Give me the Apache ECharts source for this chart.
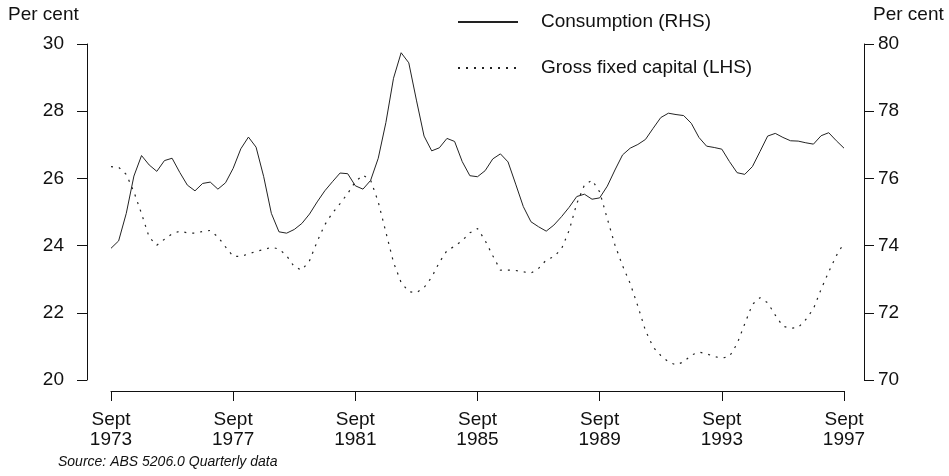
<!DOCTYPE html>
<html>
<head>
<meta charset="utf-8">
<script src="https://cdn.jsdelivr.net/npm/echarts@6/dist/echarts.min.js"></script>
<style>
  html, body { margin: 0; padding: 0; background: #fff; }
  #chart { width: 949px; height: 476px; }
</style>
</head>
<body>
<div id="chart"></div>
<script>
// quarterly, Sept 1973 .. Sept 1997
var quarterNames = ['Sept', 'Dec', 'Mar', 'Jun']
var quarters = []
for (var i = 0; i <= 96; i++) {
  quarters.push(quarterNames[i % 4] + ' ' + (1973 + Math.floor((i + 2) / 4)))
}

// Consumption share (RHS, per cent)
var consumption = [
  73.92, 74.14, 74.96, 76.07, 76.68, 76.40, 76.21, 76.53, 76.60, 76.18,
  75.80, 75.63, 75.85, 75.89, 75.68, 75.87, 76.30, 76.88, 77.23, 76.93,
  76.05, 74.96, 74.41, 74.37, 74.48, 74.66, 74.94, 75.30, 75.63, 75.90,
  76.16, 76.14, 75.78, 75.68, 75.94, 76.60, 77.66, 78.98, 79.74, 79.44,
  78.33, 77.26, 76.82, 76.91, 77.19, 77.10, 76.50, 76.08, 76.05, 76.23,
  76.58, 76.73, 76.49, 75.83, 75.16, 74.71, 74.56, 74.43, 74.61, 74.86,
  75.14, 75.46, 75.53, 75.38, 75.42, 75.77, 76.25, 76.70, 76.90, 77.01,
  77.16, 77.49, 77.81, 77.94, 77.90, 77.87, 77.64, 77.22, 76.96, 76.92,
  76.87, 76.50, 76.17, 76.12, 76.35, 76.80, 77.26, 77.34, 77.22, 77.12,
  77.11, 77.06, 77.02, 77.27, 77.36, 77.12, 76.90
]

// Gross fixed capital share (LHS, per cent)
var grossFixedCapital = [
  26.35, 26.33, 26.12, 25.60, 24.95, 24.25, 24.01, 24.19, 24.35, 24.43,
  24.38, 24.37, 24.42, 24.45, 24.26, 23.96, 23.68, 23.68, 23.75, 23.83,
  23.88, 23.95, 23.90, 23.70, 23.37, 23.27, 23.55, 24.12, 24.62, 24.97,
  25.25, 25.55, 25.90, 26.10, 25.95, 25.30, 24.40, 23.50, 22.90, 22.63,
  22.60, 22.75, 23.06, 23.50, 23.85, 23.98, 24.15, 24.38, 24.51, 24.15,
  23.70, 23.27, 23.27, 23.26, 23.22, 23.18, 23.32, 23.57, 23.67, 23.90,
  24.45, 25.25, 25.80, 25.95, 25.60, 24.80, 24.02, 23.40, 22.87, 22.20,
  21.47, 20.98, 20.73, 20.54, 20.45, 20.54, 20.74, 20.83, 20.78, 20.70,
  20.65, 20.70, 21.08, 21.67, 22.25, 22.45, 22.30, 21.93, 21.60, 21.54,
  21.56, 21.80, 22.12, 22.70, 23.22, 23.70, 24.08
]

var fontFamily = "'Liberation Sans', Arial, sans-serif"
var ink = '#111'

function showEvery4Years (index) {
  return index % 16 === 0
}

var chart = echarts.init(document.getElementById('chart'))
var option = {
  animation: false,
  textStyle: { fontFamily: fontFamily, color: ink },
  grid: { left: 111, right: 105, top: 44, bottom: 96 },
  legend: {
    orient: 'vertical',
    left: 452,
    top: 7,
    itemWidth: 60,
    itemHeight: 14,
    itemGap: 26,
    itemStyle: { opacity: 0 },
    textStyle: { fontSize: 19, color: ink, lineHeight: 20, padding: [0, 0, 0, 18] },
    data: ['Consumption (RHS)', 'Gross fixed capital (LHS)']
  },
  graphic: [
    { type: 'text', left: 8, top: 5, style: { text: 'Per cent', font: '19px ' + fontFamily, fill: ink } },
    { type: 'text', left: 873, top: 5, style: { text: 'Per cent', font: '19px ' + fontFamily, fill: ink } },
    { type: 'text', left: 58, top: 455, style: { text: 'Source: ABS 5206.0 Quarterly data', font: 'italic 14px ' + fontFamily, fill: ink } }
  ],
  xAxis: {
    type: 'category',
    data: quarters,
    boundaryGap: false,
    offset: 11,
    axisLine: { lineStyle: { color: ink, width: 1 } },
    axisTick: { length: 10, interval: showEvery4Years, lineStyle: { color: ink } },
    axisLabel: {
      interval: showEvery4Years,
      margin: 19,
      fontSize: 19,
      lineHeight: 20,
      color: ink,
      formatter: function (v) { return v.replace(' ', '\n') }
    },
    splitLine: { show: false }
  },
  yAxis: [
    {
      type: 'value',
      position: 'left',
      min: 20,
      max: 30,
      interval: 2,
      offset: 24,
      axisLine: { show: true, lineStyle: { color: ink, width: 1 } },
      axisTick: { show: true, length: 10, lineStyle: { color: ink } },
      axisLabel: { fontSize: 19, color: ink, margin: 23 },
      splitLine: { show: false }
    },
    {
      type: 'value',
      position: 'right',
      min: 70,
      max: 80,
      interval: 2,
      offset: 20,
      axisLine: { show: true, lineStyle: { color: ink, width: 1 } },
      axisTick: { show: true, length: 10, lineStyle: { color: ink } },
      axisLabel: { fontSize: 19, color: ink, margin: 14 },
      splitLine: { show: false }
    }
  ],
  series: [
    {
      name: 'Consumption (RHS)',
      type: 'line',
      yAxisIndex: 1,
      data: consumption,
      symbol: 'none',
      lineStyle: { color: '#222', width: 1 },
      itemStyle: { color: '#222' }
    },
    {
      name: 'Gross fixed capital (LHS)',
      type: 'line',
      yAxisIndex: 0,
      data: grossFixedCapital,
      symbol: 'none',
      lineStyle: { color: '#222', width: 1.2, type: [2, 6] },
      itemStyle: { color: '#222' }
    }
  ]
}
chart.setOption(option)
window.onresize = chart.resize
</script>
</body>
</html>
